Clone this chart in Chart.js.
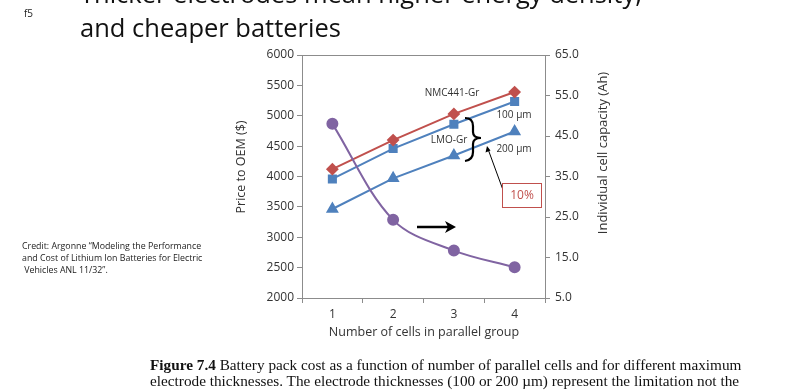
<!DOCTYPE html>
<html>
<head>
<meta charset="utf-8">
<script src="https://cdn.jsdelivr.net/npm/chart.js@4.4.1/dist/chart.umd.min.js"></script>
<style>
	body { margin: 0; background: #fff; }
	#wrap { position: relative; width: 800px; height: 390px; overflow: hidden; font-family: 'Open Sans', sans-serif; }
	#chart { position: absolute; left: 0; top: 0; }
	.slide-title { position: absolute; left: 80px; font-size: 25.5px; color: #111; white-space: nowrap; line-height: 1; }
	#f5 { position: absolute; left: 24px; top: 6px; font-size: 10px; color: #222; }
	#credit { position: absolute; left: 22px; top: 240px; font-size: 8.8px; line-height: 12px; color: #222; }
	#caption { position: absolute; left: 150px; top: 358px; font-family: 'Liberation Serif', serif; font-size: 14px; line-height: 16px; color: #111; white-space: nowrap; transform: scaleX(1.09); transform-origin: 0 0; }
</style>
</head>
<body>
<div id="wrap">
	<canvas id="chart" width="800" height="390"></canvas>
	<div class="slide-title" style="top:-19px">Thicker electrodes mean higher energy density,</div>
	<div class="slide-title" style="top:15px">and cheaper batteries</div>
	<div id="f5">f5</div>
	<div id="credit">Credit: Argonne “Modeling the Performance<br>and Cost of Lithium Ion Batteries for Electric<br>&nbsp;Vehicles ANL 11/32”.</div>
	<div id="caption"><b>Figure 7.4</b> Battery pack cost as a function of number of parallel cells and for different maximum<br>electrode thicknesses. The electrode thicknesses (100 or 200 µm) represent the limitation not the</div>
</div>
<script>
// valeurs
const cells = ['1', '2', '3', '4'];
const nmcPrice = [4120, 4600, 5030, 5390];
const lmo100Price = [3960, 4460, 4860, 5235];
const lmo200Price = [3465, 3970, 4345, 4740];
const cellCapacity = [48.0, 24.3, 16.7, 12.6];

const priceMin = 2000, priceMax = 6000, priceStep = 500;
const capMin = 5, capMax = 65, capStep = 10;

const red = '#C0504D';
const blue = '#4F81BD';
const purple = '#8064A2';
const axisGrey = '#8c8c8c';

// textes et flèches posés sur le graphique
const overlayPlugin = {
	id: 'overlay',
	afterDatasetsDraw(chart) {
		const ctx = chart.ctx;
		const a = chart.chartArea;
		ctx.save();

		// cadre du haut
		ctx.strokeStyle = axisGrey;
		ctx.lineWidth = 1;
		ctx.beginPath();
		ctx.moveTo(a.left, a.top + 0.5);
		ctx.lineTo(a.right, a.top + 0.5);
		ctx.stroke();

		ctx.fillStyle = '#333';
		ctx.font = '10px "Open Sans"';
		ctx.textAlign = 'center';
		ctx.textBaseline = 'middle';
		ctx.fillText('NMC441-Gr', 452, 93);
		ctx.fillText('100 µm', 514, 115);
		ctx.fillText('LMO-Gr', 449, 140);
		ctx.fillText('200 µm', 514, 149);

		// accolade
		ctx.strokeStyle = '#000';
		ctx.lineWidth = 2.2;
		ctx.beginPath();
		ctx.moveTo(465, 118);
		ctx.quadraticCurveTo(473, 118, 473, 126);
		ctx.lineTo(473, 132);
		ctx.quadraticCurveTo(473, 138, 481, 138);
		ctx.quadraticCurveTo(473, 138, 473, 144);
		ctx.lineTo(473, 152);
		ctx.quadraticCurveTo(473, 160, 465, 161);
		ctx.stroke();

		// petite flèche vers 200 µm
		ctx.lineWidth = 1;
		ctx.beginPath();
		ctx.moveTo(503, 190);
		ctx.lineTo(488, 149);
		ctx.stroke();
		ctx.beginPath();
		ctx.moveTo(487, 146);
		ctx.lineTo(485.5, 152.5);
		ctx.lineTo(490.5, 150.5);
		ctx.closePath();
		ctx.fillStyle = '#000';
		ctx.fill();

		// boîte 10%
		ctx.strokeStyle = red;
		ctx.lineWidth = 1;
		ctx.fillStyle = '#fff';
		ctx.fillRect(502.5, 183.5, 39, 24);
		ctx.strokeRect(502.5, 183.5, 39, 24);
		ctx.fillStyle = red;
		ctx.font = '12px "Open Sans"';
		ctx.fillText('10%', 522, 196);

		// grosse flèche
		ctx.strokeStyle = '#000';
		ctx.lineWidth = 2.5;
		ctx.beginPath();
		ctx.moveTo(417, 227);
		ctx.lineTo(450, 227);
		ctx.stroke();
		ctx.beginPath();
		ctx.moveTo(456, 227);
		ctx.lineTo(445, 221);
		ctx.lineTo(448, 227);
		ctx.lineTo(445, 233);
		ctx.closePath();
		ctx.fillStyle = '#000';
		ctx.fill();

		// titres des axes
		ctx.fillStyle = '#333';
		ctx.font = '12.5px "Open Sans"';
		ctx.fillText('Number of cells in parallel group', 424, 332);
		ctx.save();
		ctx.translate(241, 167);
		ctx.rotate(-Math.PI / 2);
		ctx.fillText('Price to OEM ($)', 0, 0);
		ctx.restore();
		ctx.save();
		ctx.translate(603, 153);
		ctx.rotate(-Math.PI / 2);
		ctx.font = '13px "Open Sans"';
		ctx.fillText('Individual cell capacity (Ah)', 0, 0);
		ctx.restore();

		ctx.restore();
	}
};

const ctx = document.getElementById('chart').getContext('2d');

new Chart(ctx, {
	type: 'line',
	data: {
		labels: cells,
		datasets: [
			{
				label: 'Cell capacity',
				data: cellCapacity,
				yAxisID: 'yCap',
				borderColor: purple,
				backgroundColor: purple,
				borderWidth: 2,
				pointStyle: 'circle',
				pointRadius: 5,
				tension: 0.35
			},
			{
				label: 'NMC441-Gr',
				data: nmcPrice,
				yAxisID: 'yPrice',
				borderColor: red,
				backgroundColor: red,
				borderWidth: 2,
				pointStyle: 'rectRot',
				pointRadius: 5,
				tension: 0
			},
			{
				label: 'LMO-Gr 100 µm',
				data: lmo100Price,
				yAxisID: 'yPrice',
				borderColor: blue,
				backgroundColor: blue,
				borderWidth: 2,
				pointStyle: 'rect',
				pointRadius: 5,
				tension: 0
			},
			{
				label: 'LMO-Gr 200 µm',
				data: lmo200Price,
				yAxisID: 'yPrice',
				borderColor: blue,
				backgroundColor: blue,
				borderWidth: 2,
				pointStyle: 'triangle',
				pointRadius: 5.5,
				tension: 0
			}
		]
	},
	options: {
		responsive: false,
		animation: false,
		layout: {
			padding: { top: 55, left: 0, right: 0, bottom: 0 }
		},
		plugins: {
			legend: { display: false },
			tooltip: { enabled: false }
		},
		scales: {
			x: {
				type: 'category',
				offset: true,
				grid: { offset: true, drawOnChartArea: false, drawTicks: true, tickLength: 5, color: axisGrey },
				border: { color: axisGrey },
				ticks: { color: '#333', font: { family: 'Open Sans', size: 12 }, padding: 4 },
				afterFit(scale) { scale.height = 92; }
			},
			yPrice: {
				type: 'linear',
				position: 'left',
				min: priceMin,
				max: priceMax,
				ticks: {
					stepSize: priceStep,
					color: '#333',
					font: { family: 'Open Sans', size: 12 },
					padding: 3,
					callback: v => String(v)
				},
				grid: { drawOnChartArea: false, drawTicks: true, tickLength: 5, color: axisGrey },
				border: { color: axisGrey },
				afterFit(scale) { scale.width = 302; }
			},
			yCap: {
				type: 'linear',
				position: 'right',
				min: capMin,
				max: capMax,
				ticks: {
					stepSize: capStep,
					color: '#333',
					font: { family: 'Open Sans', size: 12 },
					padding: 5,
					callback: v => v.toFixed(1)
				},
				grid: { drawOnChartArea: false, drawTicks: true, tickLength: 5, color: axisGrey },
				border: { color: axisGrey },
				afterFit(scale) { scale.width = 255; }
			}
		}
	},
	plugins: [overlayPlugin]
});
</script>
</body>
</html>
